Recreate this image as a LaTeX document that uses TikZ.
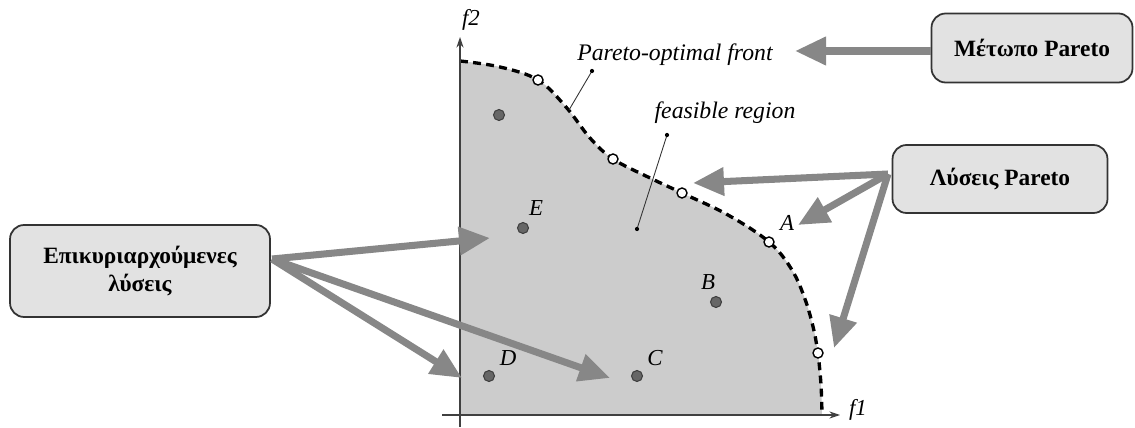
\documentclass[tikz,border=0pt]{standalone}
\usepackage{fontspec}
\setmainfont{Liberation Serif}
\usetikzlibrary{arrows.meta,positioning}
\definecolor{region}{RGB}{204,204,204}
\definecolor{boxfill}{RGB}{226,226,226}
\definecolor{pointer}{RGB}{135,135,135}

\begin{document}
\begin{tikzpicture}[x=0.02cm,y=-0.02cm,
  tag/.style={rectangle,draw=black!80,line width=1pt,fill=boxfill,rounded corners=8pt,align=center,font=\fontsize{13.3}{16}\selectfont\bfseries},
  note/.style={font=\fontsize{13.5}{15}\selectfont\itshape,inner sep=1pt},
  ptname/.style={font=\fontsize{13}{15}\selectfont\itshape,inner sep=1pt},
  pareto/.style={circle,draw=black,line width=0.8pt,fill=white,inner sep=0pt,minimum size=0.2cm},
  dominated/.style={circle,draw=black!75,line width=0.6pt,fill=black!60,inner sep=0pt,minimum size=0.22cm},
  front/.style={line width=1.9pt,dash pattern=on 4.5pt off 3pt},
  axis/.style={draw=black!75,line width=0.7pt,-{Stealth[length=6pt,width=4pt]}},
  leader/.style={draw=black!80,line width=0.5pt},
  bigarrow/.style={draw=pointer,line width=4pt,-{Triangle[length=0.62cm,width=0.54cm]}}
]
\useasboundingbox (0,0) rectangle (1135,428);

% feasible region and front
\fill[region] (460,415) -- plot[smooth,tension=0.6] coordinates {(460,61) (500,67) (538,80) (566,107) (590,138) (613,159) (648,177) (682,193) (728,215) (769,242) (792,270) (806,302) (815,335) (818,353) (821,385) (822,415)} -- cycle;
\draw[front] plot[smooth,tension=0.6] coordinates {(460,61) (500,67) (538,80) (566,107) (590,138) (613,159) (648,177) (682,193) (728,215) (769,242) (792,270) (806,302) (815,335) (818,353) (821,385) (822,415)};

% axes
\draw[axis] (460,427) -- (460,37);
\draw[axis] (442,415) -- (840,415);
\node[ptname] (f2) at (471,20) {f2};
\node[ptname] (f1) at (858,410) {f1};

% solutions
\node[pareto] (p1) at (538,80) {};
\node[pareto] (p2) at (613,159) {};
\node[pareto] (p3) at (682,193) {};
\node[pareto] (pA) at (769,242) {};
\node[pareto] (p5) at (818,353) {};
\node[dominated] (d0) at (499,115) {};
\node[dominated] (dE) at (523,228) {};
\node[dominated] (dB) at (716,302) {};
\node[dominated] (dC) at (637,376) {};
\node[dominated] (dD) at (489,376) {};
\node[ptname] (lE) at (536,208) {E};
\node[ptname] (lA) at (787,223) {A};
\node[ptname] (lB) at (708,282) {B};
\node[ptname] (lC) at (655,358) {C};
\node[ptname] (lD) at (508,358) {D};

% notes with leaders
\node[note] (frontnote) at (675,55) {Pareto-optimal front};
\node[note] (regionnote) at (725,113) {feasible region};
\coordinate (fronttip) at (592,71);
\coordinate (frontend) at (569,110);
\coordinate (regiontip) at (667,135);
\coordinate (regionend) at (637,229);
\draw[leader] (fronttip) -- (frontend);
\draw[leader] (regiontip) -- (regionend);
\fill (fronttip) circle (1.2pt);
\fill (regiontip) circle (1.2pt);
\fill (regionend) circle (1.2pt);

% boxes
\node[tag,minimum width=4.02cm,minimum height=1.38cm] (metopo) at (1032,48) {Μέτωπο Pareto};
\node[tag,minimum width=4.3cm,minimum height=1.36cm] (lyseis) at (1000,179) {Λύσεις Pareto};
\node[tag,minimum width=5.2cm,minimum height=1.84cm] (epik) at (140,271) {Επικυριαρχούμενες\\λύσεις};

% pointers
\coordinate (tipF) at (795,51);
\coordinate (tip3) at (693,183);
\coordinate (tipA) at (798,225);
\coordinate (tip5) at (834,348);
\coordinate (tipE) at (490,238);
\coordinate (tipD) at (462,378);
\coordinate (tipC) at (610,378);
\coordinate (srcP) at (888,174);
\coordinate (srcD) at (272,259);
\draw[bigarrow] (metopo.west |- tipF) -- (tipF);
\draw[bigarrow] (srcP) -- (tip3);
\draw[bigarrow] (srcP) -- (tipA);
\draw[bigarrow] (srcP) -- (tip5);
\draw[bigarrow] (srcD) -- (tipE);
\draw[bigarrow] (srcD) -- (tipD);
\draw[bigarrow] (srcD) -- (tipC);
\end{tikzpicture}
\end{document}
